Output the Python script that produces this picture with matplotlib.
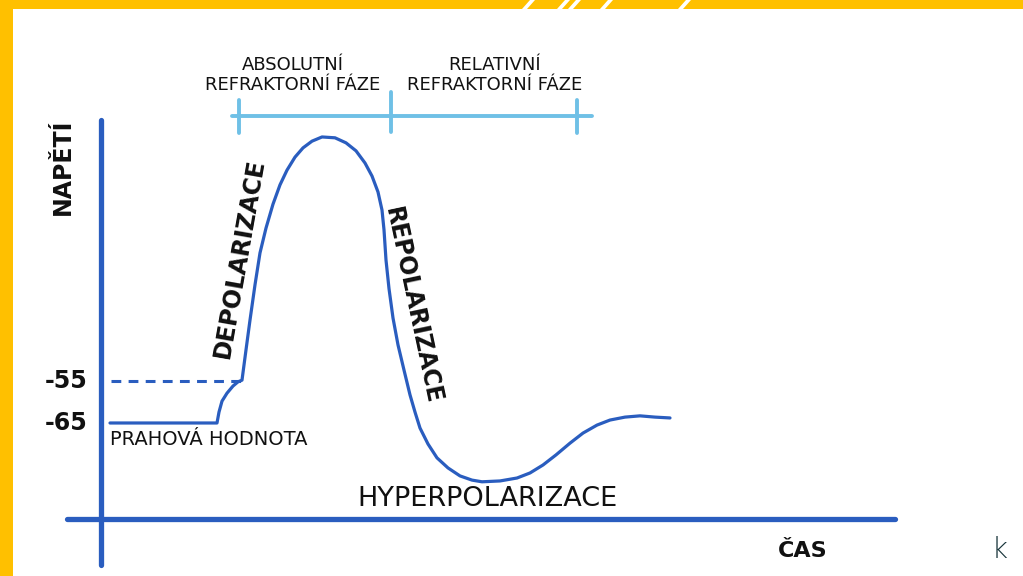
import matplotlib
matplotlib.use("Agg")
import matplotlib.pyplot as plt
from matplotlib.patches import Rectangle, Polygon

# ---------------- data (time in ms, membrane voltage in mV) ----------------
time_ms = [0.10, 1.17, 1.19, 1.22, 1.27, 1.33, 1.38, 1.42, 1.46, 1.50, 1.55,
           1.60, 1.66, 1.73, 1.80, 1.87, 1.95, 2.03, 2.12, 2.22, 2.35, 2.46,
           2.56, 2.65, 2.72, 2.78, 2.82, 2.84, 2.86, 2.89, 2.93, 2.98, 3.04,
           3.10, 3.15, 3.20, 3.28, 3.37, 3.48, 3.60, 3.72, 3.82, 4.00, 4.17,
           4.30, 4.43, 4.56, 4.70, 4.83, 4.97, 5.10, 5.25, 5.40, 5.55, 5.70]
voltage_mv = [-65.0, -65.0, -62.4, -59.8, -57.9, -56.2, -55.2, -54.8, -47.6, -40.5, -32.1,
              -24.5, -18.6, -12.9, -8.3, -4.8, -1.7, 0.5, 2.1, 3.1, 2.9, 1.7,
              -0.2, -3.1, -6.2, -10.0, -14.3, -19.0, -26.2, -33.0, -40.0, -46.4, -52.4,
              -58.3, -62.4, -66.2, -70.0, -73.3, -75.7, -77.6, -78.6, -79.0, -78.8, -78.1,
              -76.9, -75.0, -72.6, -69.8, -67.4, -65.5, -64.3, -63.6, -63.3, -63.6, -63.8]

threshold_mv = -55
threshold_time = 1.42
tick_values = [-55, -65]
tick_labels = ["-55", "-65"]

# refractory periods (ms): absolute, relative boundaries
refractory_bounds = [1.39, 2.91, 4.77]
refractory_labels = ["ABSOLUTNÍ\nREFRAKTORNÍ FÁZE", "RELATIVNÍ\nREFRAKTORNÍ FÁZE"]

# axis extents
time_axis = [-0.33, 7.95]
volt_axis = [7.1, -98.8]
x_axis_level = -87.9

# ---------------- styling ----------------
BLUE = "#2a5dbf"
LIGHT = "#6fc0e6"
YELLOW = "#FFC000"
plt.rcParams["font.family"] = ["DejaVu Sans"]

W, H = 1023, 576
fig = plt.figure(figsize=(W / 100, H / 100), dpi=100)
ax = fig.add_axes([0, 0, 1, 1])
ax.set_xlim(-1.0, 9.23)
ax.set_ylim(-101.43, 35.71)
ax.axis("off")

# border decoration
fig.add_artist(Rectangle((0, 0), 13 / W, 1, transform=fig.transFigure,
                         color=YELLOW, lw=0))
fig.add_artist(Rectangle((0, 1 - 9 / H), 1, 9 / H, transform=fig.transFigure,
                         color=YELLOW, lw=0))
stripe_px = [522, 557, 568, 600, 678]
for sx in stripe_px:
    pts = [((sx) / W, 1 - 9 / H), ((sx + 5) / W, 1 - 9 / H),
           ((sx + 13) / W, 1.0), ((sx + 8) / W, 1.0)]
    fig.add_artist(Polygon(pts, closed=True, transform=fig.transFigure,
                           color="white", lw=0))

# axes lines
ax.plot([time_axis[0], time_axis[1]], [x_axis_level, x_axis_level],
        color=BLUE, lw=3.8, solid_capstyle="round")
ax.plot([0.01, 0.01], volt_axis, color=BLUE, lw=3.8, solid_capstyle="round")

# threshold dashed line
ax.plot([0.11, threshold_time], [threshold_mv, threshold_mv], color=BLUE, lw=2.2,
        dashes=(3.2, 2.4))

# action potential curve
ax.plot(time_ms, voltage_mv, color=BLUE, lw=2.3, solid_joinstyle="round",
        solid_capstyle="round")

# refractory bar
bar_v = 8.1
ax.plot([refractory_bounds[0] - 0.07, refractory_bounds[-1] + 0.15], [bar_v, bar_v],
        color=LIGHT, lw=2.8, solid_capstyle="round")
tick_ext = [(4.0, 11.9), (4.3, 13.8), (4.0, 11.9)]
for b, (lo, hi) in zip(refractory_bounds, tick_ext):
    ax.plot([b, b], [lo, hi], color=LIGHT, lw=2.8, solid_capstyle="round")
label_centers = [1.925, 3.95]
for c, lab in zip(label_centers, refractory_labels):
    ax.text(c, 17.9, lab, ha="center", va="center", multialignment="center",
            fontsize=13, linespacing=1.15, color="#111111")

# tick labels
for v, lab in zip(tick_values, tick_labels):
    ax.text(-0.12, v, lab, ha="right", va="center", fontsize=17,
            fontweight="bold", color="#111111")

# axis titles
ax.text(-0.37, -4.05, "NAPĚTÍ", rotation=90, ha="center", va="center",
        fontsize=17, fontweight="bold", color="#111111")
ax.text(7.03, -96.9, "ČAS", ha="center", va="baseline", fontsize=16,
        fontweight="bold", color="#111111")

# phase labels
ax.text(0.10, -70.2, "PRAHOVÁ HODNOTA", ha="left", va="baseline",
        fontsize=14, color="#111111")
ax.text(3.875, -84.8, "HYPERPOLARIZACE", ha="center", va="baseline",
        fontsize=19.5, color="#111111")
ax.text(1.40, -25.7, "DEPOLARIZACE", rotation=80, rotation_mode="anchor",
        ha="center", va="center", fontsize=17, fontweight="bold", color="#111111")
ax.text(3.13, -37.1, "REPOLARIZACE", rotation=-78, rotation_mode="anchor",
        ha="center", va="center", fontsize=17, fontweight="bold", color="#111111")

# signature
ax.text(9.0, -95.2, "k", ha="center", va="center", fontsize=20,
        color="#17343a", fontweight="light")

fig.savefig("out.png", dpi=100)
